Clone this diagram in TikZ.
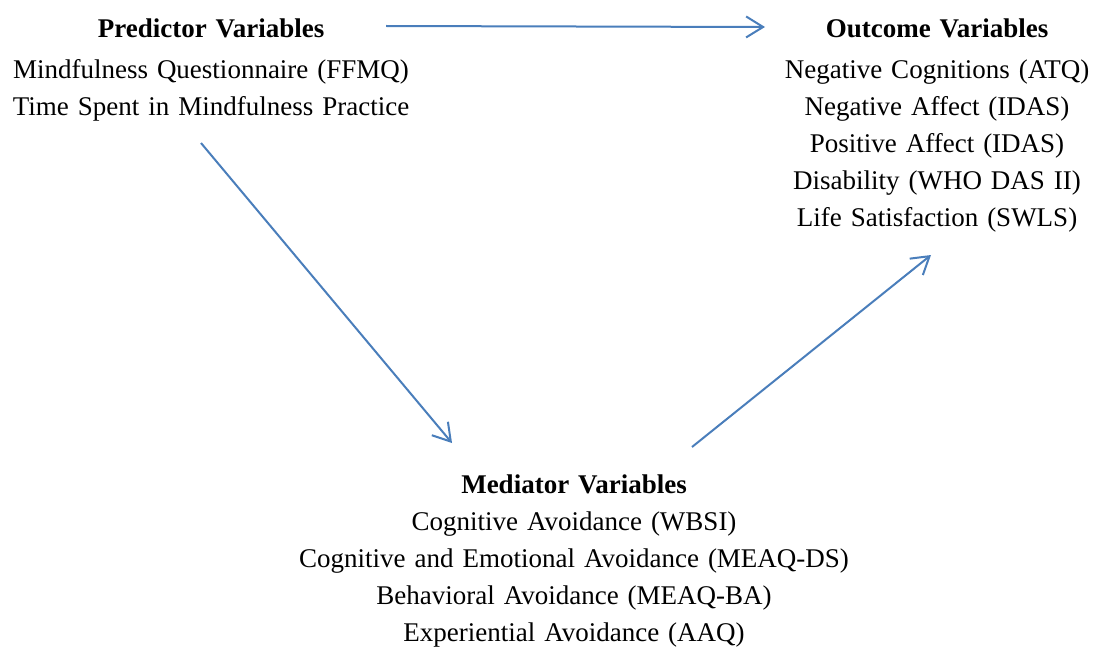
\documentclass[tikz,border=0pt]{standalone}
\usepackage{fontspec}
\setmainfont{Liberation Serif}
\usetikzlibrary{arrows.meta}
\definecolor{linkblue}{HTML}{4A7EBB}
\begin{document}
\begin{tikzpicture}[x=1pt,y=-1pt,
  varblock/.style={text width=600pt, align=center, inner sep=0pt, anchor=base,
    font=\fontsize{27}{37}\selectfont},
  link/.style={draw=linkblue, line width=2pt,
    -{Straight Barb[length=17pt,width=21pt,line width=2pt]}}]
\useasboundingbox (0,0) rectangle (1094,650);

% variable groups
\node[varblock] (pred) at (211,38)
  {\textbf{Predictor Variables}\\[4pt]
   Mindfulness Questionnaire (FFMQ)\\
   Time Spent in Mindfulness Practice};
\node[varblock] (out) at (937,38)
  {\textbf{Outcome Variables}\\[4pt]
   Negative Cognitions (ATQ)\\
   Negative Affect (IDAS)\\
   Positive Affect (IDAS)\\
   Disability (WHO DAS II)\\
   Life Satisfaction (SWLS)};
\node[varblock] (med) at (574,493)
  {\textbf{Mediator Variables}\\
   Cognitive Avoidance (WBSI)\\
   Cognitive and Emotional Avoidance (MEAQ-DS)\\
   Behavioral Avoidance (MEAQ-BA)\\
   Experiential Avoidance (AAQ)};

% arrow end points
\coordinate (pred-r) at (386,26);
\coordinate (out-l) at (765,27);
\coordinate (pred-b) at (201,143);
\coordinate (med-l) at (452,443);
\coordinate (med-r) at (692,447);
\coordinate (out-b) at (931,255);

\draw[link] (pred-r) -- (out-l);
\draw[link] (pred-b) -- (med-l);
\draw[link] (med-r) -- (out-b);
\end{tikzpicture}
\end{document}
